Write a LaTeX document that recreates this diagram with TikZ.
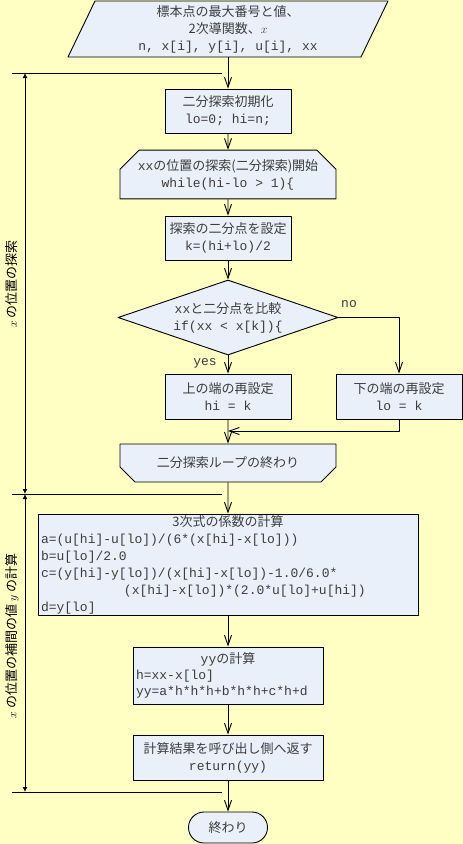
\documentclass[tikz,border=0pt]{standalone}
\usepackage{fontspec}
\setmainfont{Noto Sans CJK JP}
\setmonofont{Liberation Mono}
\usetikzlibrary{shapes.geometric,shapes.misc,arrows.meta}
\definecolor{bgyellow}{RGB}{255,255,196}
\definecolor{boxfill}{RGB}{234,240,250}
\definecolor{txtgray}{RGB}{60,60,60}

\begin{document}
\begin{tikzpicture}[x=1pt,y=-1pt,line join=round,line width=0.9pt,
	font=\fontsize{13}{17}\selectfont,
	box/.style={draw,fill=boxfill,text=txtgray,inner sep=0pt,align=center},
	loopbox/.style={box,chamfered rectangle,chamfered rectangle xsep=10pt,chamfered rectangle ysep=9pt},
	flow/.style={-{Straight Barb[length=10pt,width=7pt]}},
	span/.style={{Latex[length=5pt,width=5pt]}-{Latex[length=5pt,width=5pt]}}]
	\useasboundingbox (0,0) rectangle (463,844);
	\fill[bgyellow] (0,0) rectangle (463,844);
	
	% input
	\coordinate (A) at (95,1);
	\coordinate (B) at (388,1);
	\coordinate (C) at (361,57);
	\coordinate (D) at (68,57);
	\filldraw[fill=boxfill] (A)--(B)--(C)--(D)--cycle;
	\node[text=txtgray,align=center,minimum height=56pt,inner sep=0pt] (inp) at (228,29)
		{標本点の最大番号と値、\\2次導関数、$x$\\\texttt{n, x[i], y[i], u[i], xx}};
	
	% binary search
	\node[box,minimum width=126pt,minimum height=44pt] (init) at (228,111)
		{二分探索初期化\\\texttt{lo=0; hi=n;}};
	\node[loopbox,chamfered rectangle corners={north west,north east},minimum width=216pt,minimum height=45pt] (loopst) at (228,174.5)
		{\texttt{xx}の位置の探索(二分探索)開始\\\texttt{while(hi-lo > 1)\{}};
	\node[box,minimum width=126pt,minimum height=44pt] (mid) at (228,238)
		{探索の二分点を設定\\\texttt{k=(hi+lo)/2}};
	\node[box,diamond,aspect=2.9,minimum width=220pt,minimum height=75pt] (cmp) at (228,317.5)
		{\texttt{xx}と二分点を比較\\\texttt{if(xx < x[k])\{}};
	\node[box,minimum width=126pt,minimum height=45pt] (upper) at (228,396.5)
		{上の端の再設定\\\texttt{hi = k}};
	\node[box,minimum width=126pt,minimum height=45pt] (lower) at (399,396.5)
		{下の端の再設定\\\texttt{lo = k}};
	\node[loopbox,chamfered rectangle corners={south west,south east},minimum width=216pt,minimum height=38pt] (loopend) at (228,463)
		{二分探索ループの終わり};
	\coordinate (mrg) at (228,431);
	
	% interpolation
	\node[box,minimum width=380pt,minimum height=101pt,text width=374pt,align=left] (coef) at (228,564.5)
		{\makebox[\linewidth][c]{3次式の係数の計算}\\
		\texttt{a=(u[hi]-u[lo])/(6*(x[hi]-x[lo]))}\\
		\texttt{b=u[lo]/2.0}\\
		\texttt{c=(y[hi]-y[lo])/(x[hi]-x[lo])-1.0/6.0*}\\
		\hspace*{83pt}\texttt{(x[hi]-x[lo])*(2.0*u[lo]+u[hi])}\\
		\texttt{d=y[lo]}};
	\node[box,minimum width=190pt,minimum height=57pt,text width=184pt,align=left,font=\fontsize{13}{16}\selectfont] (yycalc) at (228,675.5)
		{\makebox[\linewidth][c]{\texttt{yy}の計算}\\
		\texttt{h=xx-x[lo]}\\
		\texttt{yy=a*h*h*h+b*h*h+c*h+d}};
	\node[box,minimum width=190pt,minimum height=45pt] (ret) at (228,757.5)
		{計算結果を呼び出し側へ返す\\\texttt{return(yy)}};
	\node[box,rounded rectangle,minimum width=79pt,minimum height=31pt] (fin) at (228,827.5) {終わり};
	
	\draw[flow] (inp.south) -- (init);
	\draw[flow] (init) -- (loopst);
	\draw[flow] (loopst) -- (mid);
	\draw[flow] (mid) -- (cmp);
	\draw[flow] (cmp) -- (upper);
	\draw[flow] (cmp.east) -| (lower);
	\draw[flow] (upper) -- (loopend);
	\draw[flow] (lower.south) |- (mrg);
	\draw[flow] (loopend) -- (coef);
	\draw[flow] (coef) -- (yycalc);
	\draw[flow] (yycalc) -- (ret);
	\draw[flow] (ret) -- (fin);
	
	\node[text=txtgray,font=\fontsize{13}{13}\ttfamily] (yes) at (205,363) {yes};
	\node[text=txtgray,font=\fontsize{13}{13}\ttfamily] (no) at (349,304) {no};
	
	% ranges on the left
	\coordinate (R0) at (25,73);
	\coordinate (R1) at (25,494);
	\coordinate (R2) at (25,792);
	\foreach \y in {73,494,792}
		\draw (12,\y) -- (222,\y);
	\draw[span] (R0) -- (R1);
	\draw[span] (R1) -- (R2);
	\node[rotate=90] (lab1) at (12,284) {$x$ の位置の探索};
	\node[rotate=90] (lab2) at (12,636) {$x$ の位置の補間の値 $y$ の計算};
\end{tikzpicture}
\end{document}
